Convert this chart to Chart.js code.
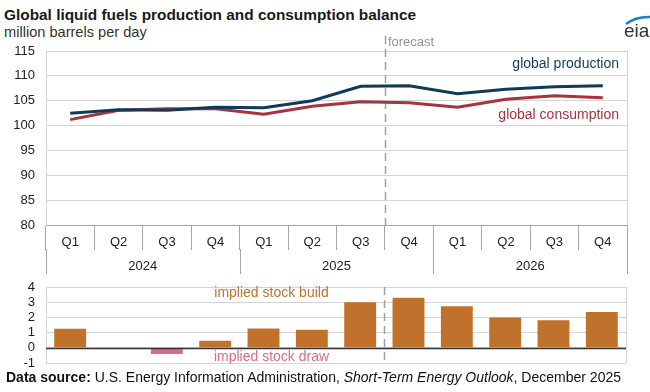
<!DOCTYPE html>
<html>
<head>
<meta charset="utf-8">
<script src="https://cdn.jsdelivr.net/npm/chart.js@4.4.1/dist/chart.umd.min.js"></script>
<style>
  html, body { margin: 0; padding: 0; background: #ffffff; }
  body { width: 650px; height: 392px; position: relative; overflow: hidden; font-family: "Liberation Sans", Arial, sans-serif; }
  #title { position: absolute; left: 4px; top: 6px; font-size: 15.4px; font-weight: bold; color: #1a1a1a; white-space: nowrap; }
  #subtitle { position: absolute; left: 4px; top: 24px; font-size: 14.6px; color: #333; white-space: nowrap; }
  #footer { position: absolute; left: 6px; top: 369px; font-size: 14px; color: #111; white-space: nowrap; }
  #c1 { position: absolute; left: 0; top: 0; }
  #c2 { position: absolute; left: 0; top: 280px; }
</style>
</head>
<body>
<div id="title">Global liquid fuels production and consumption balance</div>
<div id="subtitle">million barrels per day</div>
<canvas id="c1" width="650" height="285"></canvas>
<canvas id="c2" width="650" height="90"></canvas>
<div id="footer"><b>Data source:</b> U.S. Energy Information Administration, <i>Short-Term Energy Outlook</i>, December 2025</div>
<script>
// ---- data ----
const quarters = ['Q1','Q2','Q3','Q4','Q1','Q2','Q3','Q4','Q1','Q2','Q3','Q4'];
const years = ['2024','2025','2026'];
const production = [102.5, 103.2, 103.1, 103.7, 103.6, 105.0, 107.9, 108.0, 106.4, 107.3, 107.8, 108.0];
const consumption = [101.2, 103.1, 103.4, 103.4, 102.3, 103.9, 104.8, 104.6, 103.7, 105.3, 106.0, 105.6];
const stockChange = [1.25, 0, -0.4, 0.46, 1.27, 1.18, 3.0, 3.3, 2.74, 2.0, 1.82, 2.35];
const forecastStartIndex = 7;
const topTicks = [80, 85, 90, 95, 100, 105, 110, 115];
const bottomTicks = [-1, 0, 1, 2, 3, 4];

const FONT = '"Liberation Sans", Arial, sans-serif';
const PROD_COLOR = '#0f3a5a';
const CONS_COLOR = '#a8323f';
const BUILD_COLOR = '#c0722c';
const DRAW_COLOR = '#dc6d80';

function forecastX(chart) {
  const x = chart.scales.x;
  return (x.getPixelForValue(forecastStartIndex - 1) + x.getPixelForValue(forecastStartIndex)) / 2;
}

const topPlugin = {
  id: 'topDecor',
  beforeDatasetsDraw(chart) {
    const { ctx, chartArea: a } = chart;
    ctx.save();
    ctx.strokeStyle = '#d4d4d4';
    ctx.lineWidth = 1;
    ctx.beginPath();
    ctx.moveTo(Math.round(a.right) + 0.5, a.top);
    ctx.lineTo(Math.round(a.right) + 0.5, a.bottom);
    ctx.stroke();
    // forecast dashed line
    const fx = Math.round(forecastX(chart)) + 0.5;
    ctx.strokeStyle = '#a0a0a0';
    ctx.lineWidth = 1.5;
    ctx.setLineDash([8, 5]);
    ctx.beginPath();
    ctx.moveTo(fx, 36);
    ctx.lineTo(fx, a.bottom);
    ctx.stroke();
    ctx.setLineDash([]);
    ctx.restore();
  },
  afterDraw(chart) {
    const { ctx, chartArea: a, scales } = chart;
    const x = scales.x, y = scales.y;
    const half = (x.getPixelForValue(1) - x.getPixelForValue(0)) / 2;
    ctx.save();
    // year separators
    ctx.strokeStyle = '#a6a6a6';
    ctx.lineWidth = 1;
    for (let k = 0; k <= years.length; k++) {
      const idx = k * 4;
      const px = idx < quarters.length ? x.getPixelForValue(idx) - half : x.getPixelForValue(quarters.length - 1) + half;
      const xx = Math.round(px) + 0.5;
      ctx.beginPath();
      ctx.moveTo(xx, a.bottom + 24);
      ctx.lineTo(xx, a.bottom + 49);
      ctx.stroke();
    }
    // year labels
    ctx.fillStyle = '#222';
    ctx.font = '13px ' + FONT;
    ctx.textAlign = 'center';
    ctx.textBaseline = 'middle';
    years.forEach((yr, k) => {
      const cx = (x.getPixelForValue(k * 4) + x.getPixelForValue(k * 4 + 3)) / 2;
      ctx.fillText(yr, cx, a.bottom + 41);
    });
    // forecast label
    const fx = forecastX(chart);
    ctx.fillStyle = '#939393';
    ctx.textAlign = 'left';
    ctx.fillText('forecast', fx + 3, 42);
    // series labels
    ctx.font = '14px ' + FONT;
    ctx.textAlign = 'right';
    ctx.fillStyle = PROD_COLOR;
    ctx.fillText('global production', a.right - 8, y.getPixelForValue(112.4));
    ctx.fillStyle = CONS_COLOR;
    ctx.fillText('global consumption', a.right - 8, y.getPixelForValue(102.1));
    // eia logo
    ctx.fillStyle = '#333';
    ctx.font = '19px ' + FONT;
    ctx.textAlign = 'left';
    ctx.textBaseline = 'alphabetic';
    ctx.fillText('eia', 624, 37);
    ctx.strokeStyle = '#1a7fc4';
    ctx.lineWidth = 2.5;
    ctx.beginPath();
    ctx.moveTo(626, 24);
    ctx.quadraticCurveTo(636, 16, 652, 17);
    ctx.stroke();
    ctx.restore();
  }
};

new Chart(document.getElementById('c1'), {
  type: 'line',
  data: {
    labels: quarters,
    datasets: [
      { label: 'global production', data: production, borderColor: PROD_COLOR, borderWidth: 3, pointRadius: 0, tension: 0, fill: false },
      { label: 'global consumption', data: consumption, borderColor: CONS_COLOR, borderWidth: 3, pointRadius: 0, tension: 0, fill: false }
    ]
  },
  options: {
    responsive: false,
    animation: false,
    layout: { padding: { top: 51, right: 23, left: 0, bottom: 0 } },
    plugins: { legend: { display: false }, tooltip: { enabled: false }, title: { display: false } },
    scales: {
      x: {
        type: 'category',
        offset: true,
        grid: { display: true, offset: true, drawOnChartArea: false, drawTicks: true, tickLength: 25, color: '#a6a6a6', lineWidth: 1 },
        border: { display: true, color: '#a6a6a6', width: 1 },
        ticks: { color: '#222', font: { size: 13, family: FONT }, padding: -15, maxRotation: 0, autoSkip: false },
        afterFit(s) { s.height = 60; }
      },
      y: {
        min: 80, max: 115,
        afterBuildTicks(s) { s.ticks = topTicks.map(v => ({ value: v })); },
        grid: { color: '#d4d4d4', lineWidth: 1, drawTicks: false },
        border: { display: true, color: '#d4d4d4' },
        ticks: { color: '#222', font: { size: 13, family: FONT }, padding: 11, autoSkip: false },
        afterFit(s) { s.width = 46; }
      }
    }
  },
  plugins: [topPlugin]
});

const bottomPlugin = {
  id: 'bottomDecor',
  beforeDatasetsDraw(chart) {
    const { ctx, chartArea: a } = chart;
    ctx.save();
    ctx.strokeStyle = '#d4d4d4';
    ctx.lineWidth = 1;
    ctx.beginPath();
    ctx.moveTo(Math.round(a.right) + 0.5, a.top);
    ctx.lineTo(Math.round(a.right) + 0.5, a.bottom);
    ctx.stroke();
    const fx = Math.round(forecastX(chart)) + 0.5;
    ctx.strokeStyle = '#a0a0a0';
    ctx.lineWidth = 1.5;
    ctx.setLineDash([8, 5]);
    ctx.beginPath();
    ctx.moveTo(fx, a.top);
    ctx.lineTo(fx, a.bottom);
    ctx.stroke();
    ctx.setLineDash([]);
    ctx.restore();
  },
  afterDatasetsDraw(chart) {
    const { ctx, chartArea: a, scales } = chart;
    const x = scales.x, y = scales.y;
    ctx.save();
    // zero line
    const y0 = Math.round(y.getPixelForValue(0)) + 0.5;
    ctx.strokeStyle = '#333';
    ctx.lineWidth = 1.5;
    ctx.beginPath();
    ctx.moveTo(a.left, y0);
    ctx.lineTo(a.right, y0);
    ctx.stroke();
    const cx = x.getPixelForValue(4) + 8;
    ctx.font = '14px ' + FONT;
    ctx.textAlign = 'center';
    ctx.textBaseline = 'middle';
    ctx.fillStyle = BUILD_COLOR;
    ctx.fillText('implied stock build', cx, y.getPixelForValue(3.6));
    ctx.fillStyle = DRAW_COLOR;
    ctx.fillText('implied stock draw', cx, y.getPixelForValue(-0.6));
    ctx.restore();
  }
};

new Chart(document.getElementById('c2'), {
  type: 'bar',
  data: {
    labels: quarters,
    datasets: [{
      label: 'implied stock change',
      data: stockChange,
      backgroundColor: stockChange.map(v => v < 0 ? DRAW_COLOR : BUILD_COLOR),
      borderWidth: 0,
      categoryPercentage: 1,
      barPercentage: 0.66
    }]
  },
  options: {
    responsive: false,
    animation: false,
    layout: { padding: { top: 7, right: 24, left: 0, bottom: 7 } },
    plugins: { legend: { display: false }, tooltip: { enabled: false } },
    scales: {
      x: { display: false, offset: true },
      y: {
        min: -1, max: 4,
        afterBuildTicks(s) { s.ticks = bottomTicks.map(v => ({ value: v })); },
        grid: { color: '#d4d4d4', lineWidth: 1, drawTicks: false },
        border: { display: true, color: '#d4d4d4' },
        ticks: { color: '#222', font: { size: 13, family: FONT }, padding: 11, autoSkip: false },
        afterFit(s) { s.width = 46; s.paddingTop = 0; s.paddingBottom = 0; }
      }
    }
  },
  plugins: [bottomPlugin]
});
</script>
</body>
</html>
